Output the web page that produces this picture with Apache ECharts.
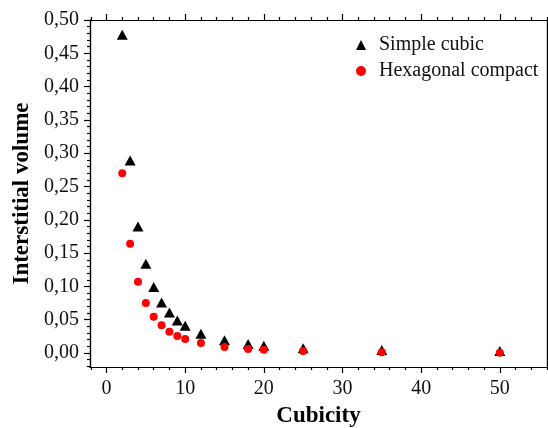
<!DOCTYPE html>
<html>
<head>
<meta charset="utf-8">
<script src="https://cdn.jsdelivr.net/npm/echarts@6/dist/echarts.min.js"></script>
<style>
  html, body { margin: 0; padding: 0; background: #fff; }
  #chart { width: 548px; height: 428px; }
</style>
</head>
<body>
<div id="chart"></div>
<script>
// Interstitial volume as a function of cubicity for two packings
const cubicity = [2, 3, 4, 5, 6, 7, 8, 9, 10, 12, 15, 18, 20, 25, 35, 50];
const simpleCubic = [0.478, 0.289, 0.190, 0.134, 0.099, 0.076, 0.061, 0.049, 0.041, 0.029, 0.019, 0.0135, 0.011, 0.007, 0.0045, 0.003];
const hexagonalCompact = [0.270, 0.164, 0.107, 0.075, 0.0545, 0.0415, 0.032, 0.0255, 0.021, 0.015, 0.009, 0.006, 0.005, 0.003, 0.001, 0.0005];

const xTicks = [0, 10, 20, 30, 40, 50];
const yTicks = [0, 0.05, 0.10, 0.15, 0.20, 0.25, 0.30, 0.35, 0.40, 0.45, 0.50];

const X_MIN = -2.1, X_MAX = 56;
const Y_MIN = -0.021, Y_MAX = 0.5;

// minor tick positions: every 2 on x, every 0.01 on y
const xMinor = [];
for (let v = -2; v <= 56; v += 2) if (v % 10 !== 0) xMinor.push(v);
const yMinor = [];
for (let i = -2; i <= 50; i++) if (i % 5 !== 0) yMinor.push(+(i / 100).toFixed(2));

const serif = '"Liberation Serif", "DejaVu Serif", serif';
const ink = '#000';
const fmt = v => v.toFixed(2).replace('.', ',');

function xAxisDef(pos, ticks, len, withLabels) {
  return {
    type: 'value', position: pos, min: X_MIN, max: X_MAX,
    axisLine: { show: true, onZero: false, lineStyle: { color: ink, width: 1.2 } },
    axisTick: { show: true, customValues: ticks, length: len, lineStyle: { color: ink, width: 1.2 } },
    axisLabel: withLabels
      ? { show: true, customValues: xTicks, color: '#111', fontFamily: serif, fontSize: 20, margin: 12 }
      : { show: false },
    splitLine: { show: false },
    name: withLabels ? 'Cubicity' : '',
    nameLocation: 'middle', nameGap: 38,
    nameTextStyle: { fontFamily: serif, fontSize: 23, fontWeight: 'bold', color: ink }
  };
}
function yAxisDef(pos, ticks, len, withLabels) {
  return {
    type: 'value', position: pos, min: Y_MIN, max: Y_MAX,
    axisLine: { show: true, onZero: false, lineStyle: { color: ink, width: 1.2 } },
    axisTick: { show: true, customValues: ticks, length: len, lineStyle: { color: ink, width: 1.2 } },
    axisLabel: withLabels
      ? { show: true, customValues: yTicks, formatter: fmt, color: '#111', fontFamily: serif, fontSize: 20, margin: 11 }
      : { show: false },
    splitLine: { show: false },
    name: withLabels ? 'Interstitial volume' : '',
    nameLocation: 'middle', nameGap: 56, nameRotate: 90,
    nameTextStyle: { fontFamily: serif, fontSize: 23, fontWeight: 'bold', color: ink }
  };
}

const chart = echarts.init(document.getElementById('chart'), null, { renderer: 'canvas' });
chart.setOption({
  animation: false,
  backgroundColor: '#fff',
  grid: { left: 90, right: 1, top: 20, bottom: 61, containLabel: false, outerBoundsMode: 'none' },
  xAxis: [
    xAxisDef('bottom', xTicks, 6, true),
    xAxisDef('bottom', xMinor, 3, false),
    xAxisDef('top', xTicks, 6, false),
    xAxisDef('top', xMinor, 3, false)
  ],
  yAxis: [
    yAxisDef('left', yTicks, 6, true),
    yAxisDef('left', yMinor, 3, false),
    yAxisDef('right', yTicks, 6, false),
    yAxisDef('right', yMinor, 3, false)
  ],
  legend: {
    orient: 'vertical', left: 351, top: 30, itemGap: 6,
    itemWidth: 10, itemHeight: 10,
    textStyle: { fontFamily: serif, fontSize: 20, color: '#111', padding: [0, 0, 0, 8] },
    data: [
      { name: 'Simple cubic', icon: 'triangle' },
      { name: 'Hexagonal compact', icon: 'circle' }
    ]
  },
  series: [
    {
      name: 'Simple cubic', type: 'scatter', symbol: 'triangle', symbolSize: [11, 10],
      itemStyle: { color: '#000', opacity: 1 },
      data: cubicity.map((c, i) => [c, simpleCubic[i]]),
      z: 2
    },
    {
      name: 'Hexagonal compact', type: 'scatter', symbol: 'circle', symbolSize: 8,
      itemStyle: { color: '#ff0000', opacity: 1 },
      data: cubicity.map((c, i) => [c, hexagonalCompact[i]]),
      z: 3
    }
  ]
});
</script>
</body>
</html>
